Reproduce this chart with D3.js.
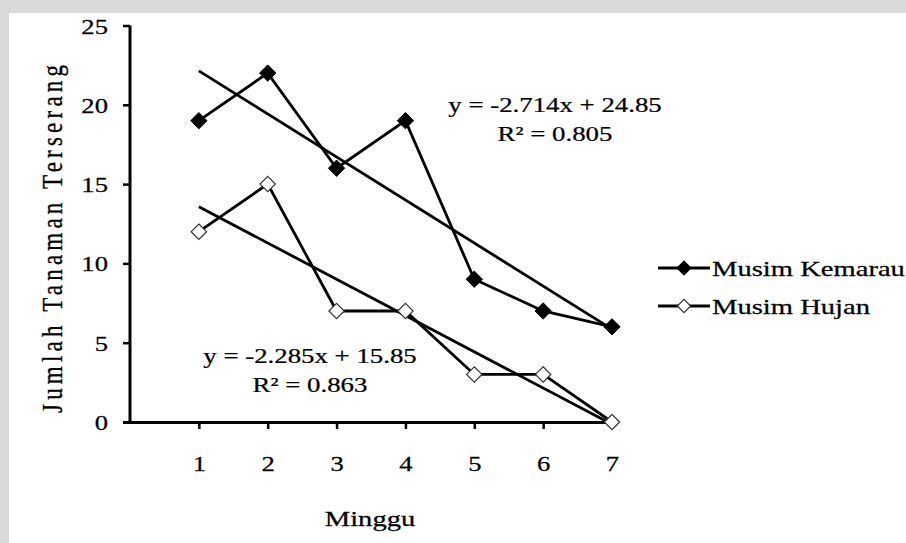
<!DOCTYPE html>
<html>
<head>
<meta charset="utf-8">
<script src="https://cdn.jsdelivr.net/npm/d3@7"></script>
<style>
  body { margin: 0; background: #fff; }
  svg { display: block; }
  text { font-family: "Liberation Serif", "Times New Roman", serif; fill: #000; }
</style>
</head>
<body>
<div id="chart"></div>
<script>
// data
let minggu = [1, 2, 3, 4, 5, 6, 7];
let kemarau = [19, 22, 16, 19, 9, 7, 6];
let hujan = [12, 15, 7, 7, 3, 3, 0];
let yTicks = [0, 5, 10, 15, 20, 25];
let seriesNames = ['Musim Kemarau', 'Musim Hujan'];

let width = 906, height = 543;
// the scanned picture is a bit wider than tall, text too
let stretch = 1.3;

let svg = d3.select("#chart")
  .append("svg")
  .attr("width", width)
  .attr("height", height);

// grey border band at top / left like the scanned page
svg.append("rect").attr("x", 0).attr("y", 0).attr("width", width).attr("height", 13).attr("fill", "#d9d9d9");
svg.append("rect").attr("x", 0).attr("y", 0).attr("width", 9).attr("height", height).attr("fill", "#d9d9d9");

// text helper, stretched sideways
function addText(tx, ty, str, size, anchor, sx) {
  return svg.append("text")
    .attr("transform", "translate(" + tx + "," + ty + ") scale(" + (sx || stretch) + ",1)")
    .attr("text-anchor", anchor || "middle")
    .style("font-size", size + "px")
    .attr("stroke", "#000").attr("stroke-width", 0.25)
    .text(str);
}

let x = d3.scaleLinear().domain([0, 7]).range([130, 612]);
let y = d3.scaleLinear().domain([0, 25]).range([422, 25.5]);

// axes
let yAxis = svg.append("g")
  .attr("transform", "translate(130,0)")
  .call(d3.axisLeft(y).tickValues(yTicks).tickFormat(d3.format("d")).tickSize(7).tickPadding(15));
let xAxis = svg.append("g")
  .attr("transform", "translate(0,422)")
  .call(d3.axisBottom(x).tickValues(minggu).tickFormat(d3.format("d")).tickSize(7).tickPadding(27));

[yAxis, xAxis].forEach(g => {
  g.select(".domain").attr("stroke", "#000").attr("stroke-width", 3);
  g.selectAll(".tick line").attr("stroke", "#000").attr("stroke-width", 2.5);
  g.selectAll(".tick text")
    .style("font-size", "20.5px")
    .style("font-family", '"Liberation Serif", serif')
    .attr("fill", "#000").attr("stroke", "#000").attr("stroke-width", 0.25);
});
// stretch tick labels the same way
yAxis.selectAll(".tick text").each(function () {
  let t = d3.select(this);
  let tx = +t.attr("x");
  t.attr("x", null).attr("transform", "translate(" + tx + ",1) scale(" + stretch + ",1)");
});
xAxis.selectAll(".tick text").each(function () {
  let t = d3.select(this);
  let ty = +t.attr("y");
  t.attr("y", null).attr("transform", "translate(0," + ty + ") scale(" + stretch + ",1)");
});
xAxis.select(".domain").attr("d", "M123,0.5H612");
yAxis.select(".domain").attr("d", "M0,25.5V422");

// axis titles
addText(370, 526, "Minggu", 22);
svg.append("text")
  .attr("transform", "translate(62,239) rotate(-90) scale(1," + stretch + ")")
  .attr("text-anchor", "middle")
  .attr("textLength", 348).attr("lengthAdjust", "spacing")
  .style("font-size", "23px")
  .attr("stroke", "#000").attr("stroke-width", 0.25)
  .text("Jumlah Tanaman Terserang");

// linear trend from the data
function trend(vals) {
  let mx = d3.mean(minggu), my = d3.mean(vals);
  let sxy = d3.sum(minggu, (v, i) => (v - mx) * (vals[i] - my));
  let sxx = d3.sum(minggu, v => (v - mx) * (v - mx));
  let syy = d3.sum(vals, v => (v - my) * (v - my));
  let b = sxy / sxx, a = my - b * mx;
  return { a: a, b: b, r2: (sxy * sxy) / (sxx * syy) };
}

let line = d3.line().x((d, i) => x(minggu[i])).y(d => y(d));

function drawSeries(vals, filled) {
  let t = trend(vals);
  let x0 = minggu[0], x1 = minggu[minggu.length - 1];
  svg.append("line")
    .attr("x1", x(x0)).attr("y1", y(t.a + t.b * x0))
    .attr("x2", x(x1)).attr("y2", y(t.a + t.b * x1))
    .attr("stroke", "#000").attr("stroke-width", 2.8);
  svg.append("path")
    .datum(vals)
    .attr("d", line)
    .attr("fill", "none")
    .attr("stroke", "#000")
    .attr("stroke-width", 2.8);
  svg.selectAll(null)
    .data(vals)
    .enter()
    .append("path")
    .attr("d", d3.symbol(d3.symbolDiamond2, filled ? 170 : 150))
    .attr("transform", (d, i) => "translate(" + x(minggu[i]) + "," + y(d) + ")")
    .attr("fill", filled ? "#000" : "#fff")
    .attr("stroke", filled ? "#000" : "#333")
    .attr("stroke-width", filled ? 1 : 1.2);
  return t;
}

let tK = drawSeries(kemarau, true);
let tH = drawSeries(hujan, false);

// excel style: cut digits, do not round
function cut(v, k) {
  let p = Math.pow(10, k);
  return (Math.sign(v) * Math.floor(Math.abs(v) * p + 1e-9) / p).toFixed(k);
}

function label(t, cx, cy) {
  let sign = t.a >= 0 ? " + " : " - ";
  addText(cx, cy, "y = " + cut(t.b, 3) + "x" + sign + cut(Math.abs(t.a), 2), 22, "middle", 1.22);
  addText(cx, cy + 29, "R² = " + cut(t.r2, 3), 22, "middle", 1.22);
}
label(tK, 555, 112);
label(tH, 310, 363);

// legend
let legend = svg.append("g").attr("transform", "translate(658,268)");
seriesNames.forEach((name, i) => {
  let g = legend.append("g").attr("transform", "translate(0," + i * 38 + ")");
  g.append("line").attr("x1", 0).attr("x2", 52).attr("y1", 0).attr("y2", 0)
    .attr("stroke", "#000").attr("stroke-width", 2.8);
  g.append("path")
    .attr("d", d3.symbol(d3.symbolDiamond2, i === 0 ? 120 : 110))
    .attr("transform", "translate(26,0)")
    .attr("fill", i === 0 ? "#000" : "#fff")
    .attr("stroke", i === 0 ? "#000" : "#333")
    .attr("stroke-width", 1.2);
});
seriesNames.forEach((name, i) => addText(712, 276 + i * 38, name, 22, "start"));
</script>
</body>
</html>
